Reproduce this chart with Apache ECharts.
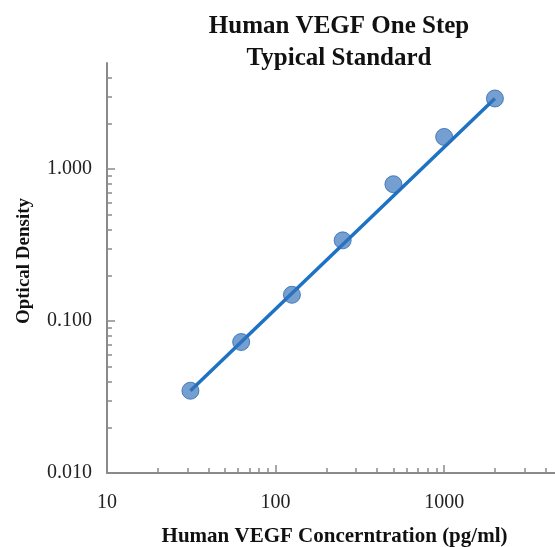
<!DOCTYPE html>
<html>
<head>
<meta charset="utf-8">
<script src="https://cdn.jsdelivr.net/npm/echarts@6/dist/echarts.min.js"></script>
<style>html,body{margin:0;padding:0;background:#fff}#c{width:555px;height:547px}</style>
</head>
<body>
<div id="c"></div>
<script>
var concentrations = [31.25, 62.5, 125, 250, 500, 1000, 2000];
var odValues = [0.0348, 0.0728, 0.149, 0.340, 0.796, 1.63, 2.92];
var fitX = [31.25, 2000];
var fitY = [0.0348, 2.92];
var xMajorTicks = [10, 100, 1000];
var xMinorTicks = [20, 30, 40, 50, 60, 70, 80, 90, 200, 300, 400, 500, 600, 700, 800, 900, 2000, 3000, 4000];
var yMajorTicks = [0.01, 0.1, 1];
var yMinorTicks = [0.02, 0.03, 0.04, 0.05, 0.06, 0.07, 0.08, 0.09, 0.2, 0.3, 0.4, 0.5, 0.6, 0.7, 0.8, 0.9, 2, 3, 4];
var titleText = 'Human VEGF One Step\nTypical Standard';
var xName = 'Human VEGF Concerntration (pg/ml)';
var yName = 'Optical Density';

var serif = '"Liberation Serif", "Times New Roman", serif';
var axisGray = '#8a8a8a';
var chart = echarts.init(document.getElementById('c'), null, {renderer: 'canvas'});

function baseX(isMain) {
  return {
    type: 'log', logBase: 10, min: 10, max: 5000,
    gridIndex: 0, position: 'bottom',
    name: isMain ? xName : '',
    nameLocation: 'middle', nameGap: 53,
    nameTextStyle: {fontFamily: serif, fontWeight: 'bold', fontSize: 21, color: '#111'},
    axisLine: {show: isMain, lineStyle: {color: axisGray, width: 2}},
    axisTick: {show: true, inside: true, length: isMain ? 8 : 5,
      customValues: isMain ? xMajorTicks : xMinorTicks,
      lineStyle: {color: axisGray, width: 1.5}},
    axisLabel: {show: isMain, customValues: xMajorTicks, fontFamily: serif, fontSize: 20, color: '#222', margin: 20,
      formatter: function (v) { return String(Math.round(v)); }},
    splitLine: {show: false}
  };
}
function baseY(isMain) {
  return {
    type: 'log', logBase: 10, min: 0.01, max: 5,
    gridIndex: 0, position: 'left',
    name: isMain ? yName : '',
    nameLocation: 'middle', nameGap: 73, nameRotate: 90,
    nameTextStyle: {fontFamily: serif, fontWeight: 'bold', fontSize: 19, color: '#111', padding: [0, 0, 0, 14]},
    axisLine: {show: isMain, lineStyle: {color: axisGray, width: 2}},
    axisTick: {show: true, inside: true, length: isMain ? 8 : 5,
      customValues: isMain ? yMajorTicks : yMinorTicks,
      lineStyle: {color: axisGray, width: 1.5}},
    axisLabel: {show: isMain, customValues: yMajorTicks, fontFamily: serif, fontSize: 20, color: '#222', margin: 15,
      formatter: function (v) { return Number(v).toFixed(3); }},
    splitLine: {show: false}
  };
}

chart.setOption({
  animation: false,
  backgroundColor: '#ffffff',
  title: {
    text: titleText, left: 334, top: 6, textAlign: 'center',
    textStyle: {fontFamily: serif, fontWeight: 'bold', fontSize: 25, lineHeight: 32, color: '#111'}
  },
  grid: {left: 107, right: -7, top: 63, bottom: 74, containLabel: false, outerBoundsMode: 'none'},
  xAxis: [baseX(true), baseX(false)],
  yAxis: [baseY(true), baseY(false)],
  series: [
    {
      type: 'line', xAxisIndex: 0, yAxisIndex: 0,
      data: fitX.map(function (x, i) { return [x, fitY[i]]; }),
      showSymbol: false, symbol: 'none',
      lineStyle: {color: '#1d72c4', width: 3.5}, z: 2
    },
    {
      type: 'scatter', xAxisIndex: 0, yAxisIndex: 0,
      data: concentrations.map(function (x, i) { return [x, odValues[i]]; }),
      symbol: 'circle', symbolSize: 17,
      itemStyle: {color: 'rgba(52,114,186,0.85)', borderColor: '#2c68b0', borderWidth: 1}, z: 3
    }
  ]
});
</script>
</body>
</html>
